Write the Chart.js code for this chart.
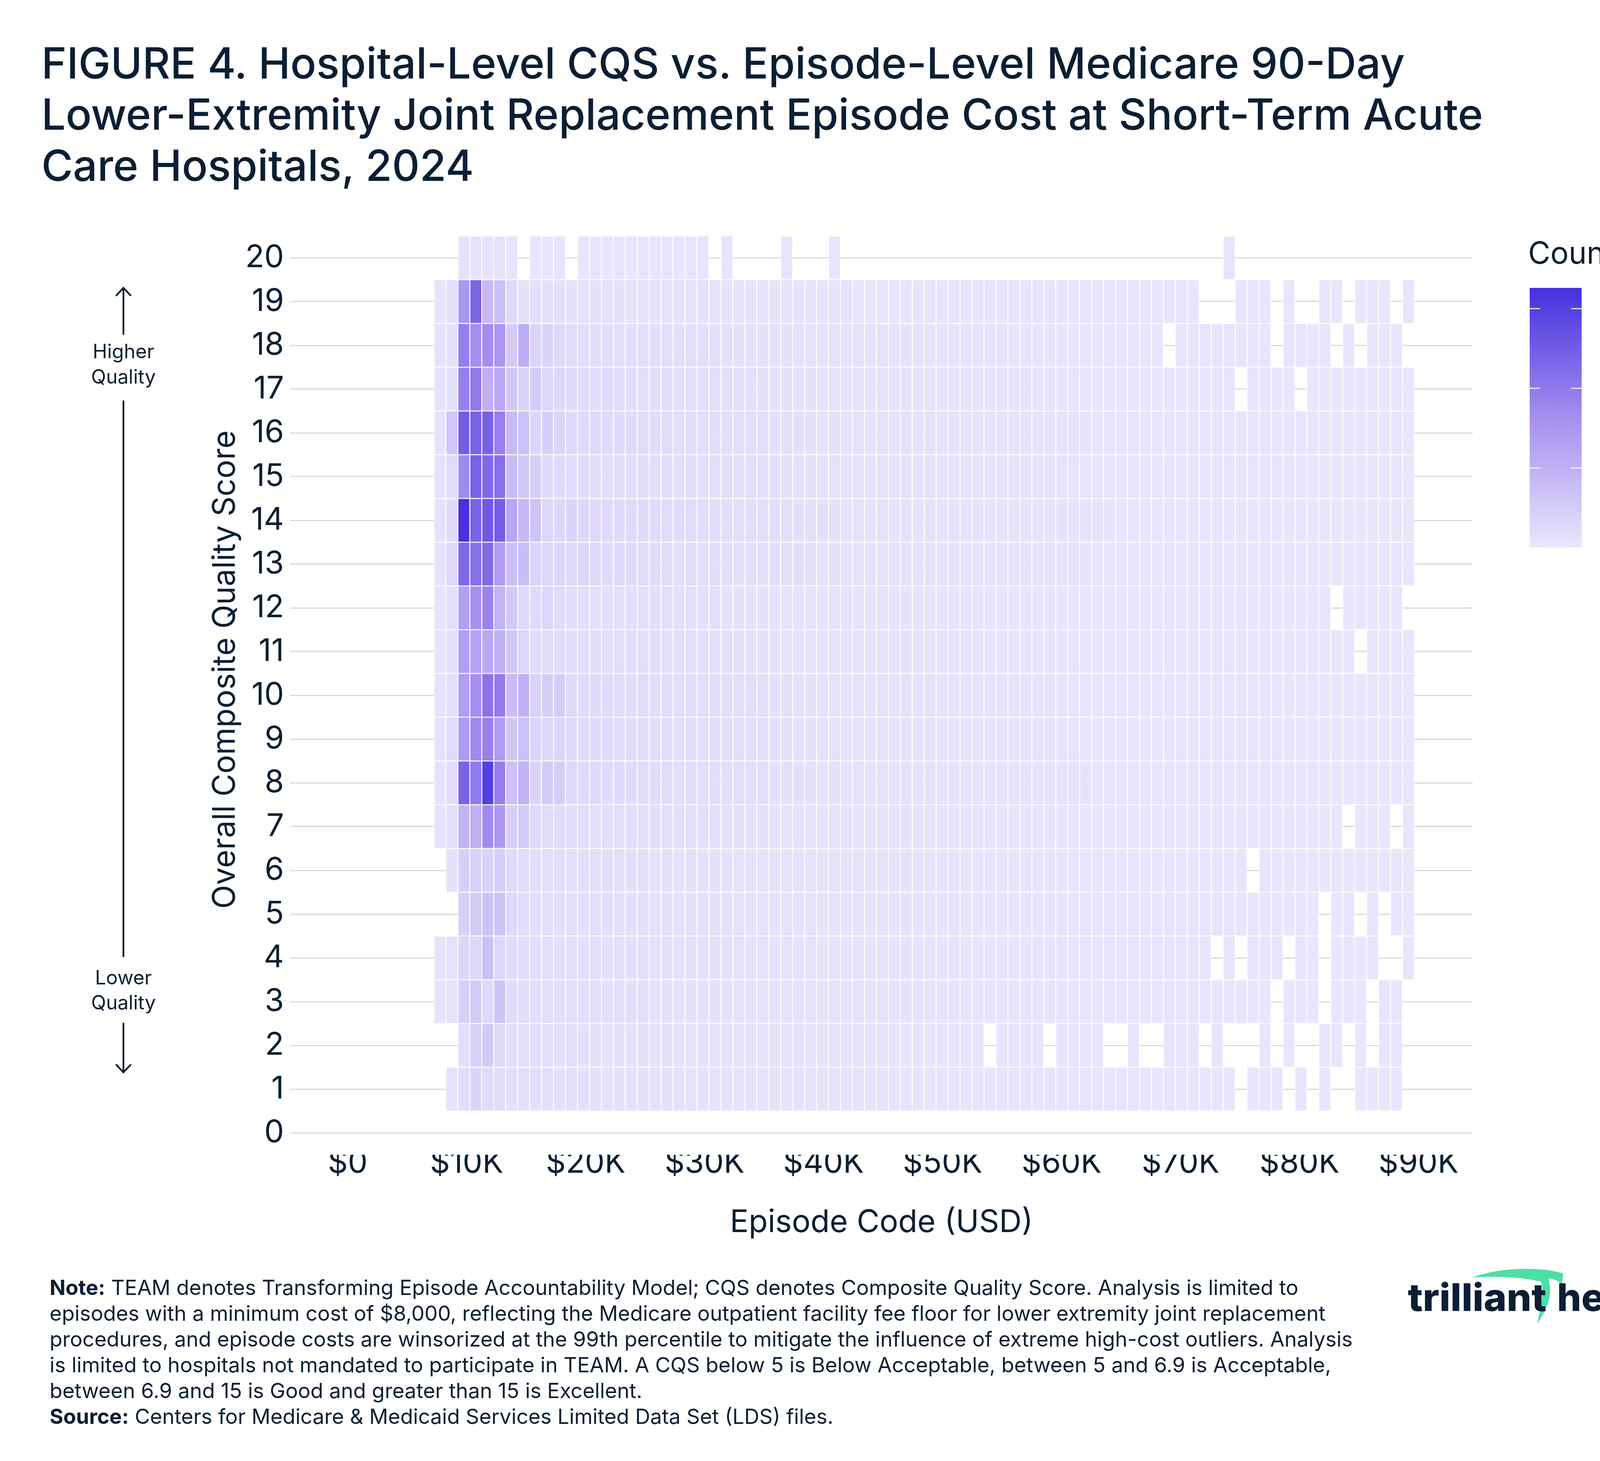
<!DOCTYPE html>
<html>
<head>
<meta charset="utf-8">
<script src="https://cdn.jsdelivr.net/npm/chart.js@4.4.1/dist/chart.umd.min.js"></script>
<style>
  html, body { margin: 0; padding: 0; background: #fff; }
  body { width: 4468px; height: 3740px; position: relative; overflow: hidden; font-family: 'Inter', sans-serif; color: #0b1e33; }
  #title { position: absolute; left: 106px; top: 96px; font-size: 110px; font-weight: 500; line-height: 131px; white-space: nowrap; }
  #plotWrap { position: absolute; left: 400px; top: 540px; width: 3420px; height: 2680px; }
  #ytitle { position: absolute; left: 571px; top: 1714px; transform: translate(-50%, -50%) rotate(-90deg); font-size: 80px; white-space: nowrap; }
  #countTitle { position: absolute; left: 3912px; top: 600px; font-size: 78px; line-height: 94px; }
  #cbWrap { position: absolute; left: 3900px; top: 700px; width: 520px; height: 740px; }
  #note { position: absolute; left: 127px; top: 3263px; font-size: 53.5px; line-height: 66px; white-space: nowrap; }
  #note b { font-weight: 700; }
  svg { position: absolute; }
</style>
</head>
<body>
<div id="title">FIGURE 4. Hospital-Level CQS vs. Episode-Level Medicare 90-Day<br>Lower-Extremity Joint Replacement Episode Cost at Short-Term Acute<br>Care Hospitals, 2024</div>

<div id="plotWrap"><canvas id="heatmap"></canvas></div>
<div id="ytitle">Overall Composite Quality Score</div>

<svg style="left:0;top:0" width="700" height="2900">
  <g stroke="#0b1e33" stroke-width="4.5" fill="none" stroke-linecap="round">
    <line x1="316" y1="737" x2="316" y2="855"/>
    <polyline points="298,756 316,737 334,756"/>
    <line x1="316" y1="1027" x2="316" y2="2448"/>
    <line x1="316" y1="2620" x2="316" y2="2745"/>
    <polyline points="298,2726 316,2745 334,2726"/>
  </g>
  <g fill="#0b1e33" font-family="Inter, sans-serif" font-size="50" text-anchor="middle">
    <text x="316" y="917">Higher</text>
    <text x="316" y="982">Quality</text>
    <text x="316" y="2520">Lower</text>
    <text x="316" y="2584">Quality</text>
  </g>
</svg>

<div id="countTitle">Count</div>
<div id="cbWrap"><canvas id="colorbar"></canvas></div>

<div id="note"><b>Note:</b> TEAM denotes Transforming Episode Accountability Model; CQS denotes Composite Quality Score. Analysis is limited to<br>episodes with a minimum cost of $8,000, reflecting the Medicare outpatient facility fee floor for lower extremity joint replacement<br>procedures, and episode costs are winsorized at the 99th percentile to mitigate the influence of extreme high-cost outliers. Analysis<br>is limited to hospitals not mandated to participate in TEAM. A CQS below 5 is Below Acceptable, between 5 and 6.9 is Acceptable,<br>between 6.9 and 15 is Good and greater than 15 is Excellent.<br><b>Source:</b> Centers for Medicare &amp; Medicaid Services Limited Data Set (LDS) files.</div>

<svg style="left:3590px;top:3230px" width="760" height="180">
  <path d="M180,40 C240,16 350,10 412,30 L408,58 C396,46 384,42 374,44 C384,82 376,112 346,158 C352,120 362,86 356,52 C320,40 240,36 180,40 Z" fill="#4ddfa5"/>
  <g fill="#0b1e33" font-family="Inter, sans-serif" font-weight="800" font-size="98">
    <text x="14" y="126" textLength="355" lengthAdjust="spacingAndGlyphs">trilliant</text>
    <text x="396" y="126" textLength="309" lengthAdjust="spacingAndGlyphs">health</text>
  </g>
  <circle cx="709" cy="58" r="9" fill="none" stroke="#0b1e33" stroke-width="2"/>
  <text x="709" y="63" font-family="Inter, sans-serif" font-size="13" font-weight="700" fill="#0b1e33" text-anchor="middle">R</text>
</svg>

<script>
Chart.defaults.font.family = "'Inter', sans-serif";
Chart.defaults.color = '#0b1e33';

// cost bins ($1K-ish wide, starting just above $7K) and score levels
const costBinStart = 7250;
const costBinWidth = 1005;
const scoreLevels = [1, 2, 3, 4, 5, 6, 7, 8, 9, 10, 11, 12, 13, 14, 15, 16, 17, 18, 19, 20];
const scoreTicks = [0, 1, 2, 3, 4, 5, 6, 7, 8, 9, 10, 11, 12, 13, 14, 15, 16, 17, 18, 19, 20];
const costTicks = [0, 10000, 20000, 30000, 40000, 50000, 60000, 70000, 80000, 90000];
const countTicks = [0, 2000, 4000, 6000];
const countMin = 0, countMax = 6520;

// episode counts per cost bin (82 bins), one array per CQS row, null = empty bin
const row1 = [
  null,200,370,700,440,400,330,290,280,270,
  260,250,245,240,235,230,225,220,215,210,
  205,200,195,190,185,180,175,170,165,160,
  155,150,145,140,140,135,130,130,125,120,
  120,115,110,110,105,105,100,100,95,95,
  90,90,85,85,80,80,80,75,75,70,
  70,65,65,60,60,55,55,null,55,50,
  50,null,50,null,45,null,null,45,40,40,
  40,null];
const row2 = [
  null,null,370,850,1070,480,330,300,290,280,
  270,260,250,240,235,230,225,220,215,210,
  205,200,195,190,185,180,175,170,165,160,
  155,150,145,140,140,135,130,130,125,120,
  120,115,110,110,105,105,null,100,100,95,
  95,null,90,90,85,85,null,null,80,null,
  null,75,70,70,null,65,null,null,null,60,
  null,55,null,null,50,50,null,45,null,45,
  40,null];
const row3 = [
  150,200,890,1070,480,1330,400,360,330,320,
  310,300,290,280,270,260,250,245,240,235,
  230,225,220,210,205,200,195,190,185,180,
  175,170,165,160,155,150,150,145,140,140,
  135,130,125,125,120,120,115,115,110,110,
  105,105,100,100,95,95,90,90,85,85,
  80,80,75,75,70,70,65,65,60,60,
  null,55,55,55,null,50,50,45,null,45,
  40,null];
const row4 = [
  150,200,630,630,1480,630,440,360,330,320,
  310,300,290,280,270,260,250,245,240,235,
  230,225,220,210,205,200,195,190,185,180,
  175,170,165,160,155,150,150,145,140,140,
  135,130,125,125,120,120,115,115,110,110,
  105,105,100,100,95,95,90,90,85,85,
  80,80,75,75,70,null,65,null,60,60,
  55,null,55,50,null,50,45,45,45,null,
  null,40];
const row5 = [
  null,null,850,1070,1330,1330,520,400,340,330,
  320,310,300,290,280,270,260,250,240,235,
  230,225,220,210,205,200,195,190,185,180,
  175,170,165,160,155,150,150,145,140,140,
  135,130,125,125,120,120,115,115,110,110,
  105,105,100,100,95,95,90,90,85,85,
  80,80,75,75,70,70,65,65,60,60,
  55,55,55,50,null,50,45,null,45,null,
  40,40];
const row6 = [
  null,220,900,850,780,890,440,380,340,330,
  320,310,300,290,280,270,260,250,240,235,
  230,225,220,210,205,200,195,190,185,180,
  175,170,165,160,155,150,150,145,140,140,
  135,130,125,125,120,120,115,115,110,110,
  105,105,100,100,95,95,90,90,85,85,
  80,80,75,75,70,70,65,65,null,60,
  60,55,55,55,50,50,50,45,45,45,
  40,40];
const row7 = [
  180,260,1890,2110,3390,2930,890,1040,520,420,
  400,380,360,350,340,330,320,310,300,290,
  280,270,260,250,240,230,220,210,200,195,
  190,185,180,175,170,165,160,155,150,150,
  145,140,135,130,130,125,120,120,115,115,
  110,110,105,105,100,100,95,95,90,90,
  85,85,80,80,75,75,70,70,65,65,
  60,60,55,55,50,50,null,45,45,40,
  null,40];
const row8 = [
  180,370,4760,3980,6040,3850,1440,1960,700,1070,
  960,520,480,470,460,450,430,420,400,390,
  380,370,360,340,320,300,290,280,270,260,
  250,240,230,220,210,210,200,200,190,190,
  180,180,170,170,160,160,150,150,145,140,
  140,135,130,130,125,120,120,115,110,110,
  105,100,100,95,95,90,90,85,85,80,
  80,75,75,70,70,65,65,60,60,55,
  55,50];
const row9 = [
  180,440,2850,3430,3780,2780,1200,1440,700,630,
  630,480,450,440,430,420,400,390,380,370,
  360,350,340,320,300,290,280,270,260,250,
  240,230,220,210,200,200,190,190,180,180,
  170,170,160,160,150,150,145,140,140,135,
  130,130,125,120,120,115,110,110,105,100,
  100,95,95,90,90,85,85,80,80,75,
  75,70,70,65,65,60,60,55,55,50,
  50,50];
const row10 = [
  180,260,2700,3260,4170,3900,1560,2040,780,960,
  960,480,450,440,430,420,400,390,380,370,
  360,350,340,320,300,290,280,270,260,250,
  240,230,220,210,200,200,190,190,180,180,
  170,170,160,160,150,150,145,140,140,135,
  130,130,125,120,120,115,110,110,105,100,
  100,95,95,90,90,85,85,80,80,75,
  75,70,70,65,65,60,60,55,55,50,
  50,50];
const row11 = [
  150,260,2700,2560,2330,2040,1150,630,440,420,
  400,380,370,360,350,340,330,320,310,300,
  290,280,270,260,250,240,230,220,210,200,
  195,190,185,180,175,170,165,160,155,150,
  150,145,140,135,130,130,125,120,120,115,
  115,110,110,105,105,100,100,95,95,90,
  90,85,85,80,80,75,75,70,70,65,
  65,60,60,55,55,50,50,null,45,45,
  40,40];
const row12 = [
  150,260,2670,3150,3680,1890,1150,520,500,630,
  420,380,360,350,340,330,320,310,300,290,
  280,270,260,250,240,230,220,210,200,195,
  190,185,180,175,170,165,160,155,150,150,
  145,140,135,130,130,125,120,120,115,115,
  110,110,105,105,100,100,95,95,90,90,
  85,85,80,80,75,75,70,70,65,65,
  60,60,55,55,50,null,50,45,45,40,
  40,null];
const row13 = [
  180,550,4600,4330,4530,2780,1440,1560,700,630,
  630,480,630,470,460,450,430,420,400,390,
  380,370,360,340,320,310,300,290,280,270,
  260,250,240,230,220,220,210,200,200,190,
  190,180,170,170,160,160,150,150,150,140,
  140,140,130,130,130,120,120,120,110,110,
  110,105,100,100,95,95,90,90,85,85,
  80,80,75,75,70,70,65,65,60,60,
  55,55];
const row14 = [
  180,480,6450,4760,5150,4980,2400,1700,1300,630,
  600,670,520,500,490,480,460,440,420,410,
  400,390,380,360,340,320,310,300,290,280,
  270,260,250,240,230,220,220,210,200,200,
  190,190,180,180,170,170,160,160,150,150,
  150,140,140,140,130,130,130,120,120,115,
  110,110,105,100,100,95,95,90,90,85,
  85,80,80,75,75,70,70,65,65,60,
  60,55];
const row15 = [
  180,440,3390,4760,4560,4330,1590,1150,890,440,
  440,400,400,390,380,380,370,360,350,340,
  330,320,310,300,290,280,270,260,250,240,
  230,220,210,210,200,200,190,190,180,180,
  170,170,160,160,150,150,150,140,140,140,
  130,130,130,120,120,120,110,110,110,105,
  100,100,95,95,90,90,85,85,80,80,
  75,75,70,70,65,65,60,60,55,55,
  55,50];
const row16 = [
  180,1220,4980,4760,4850,3780,1700,1440,630,890,
  700,520,500,480,470,460,440,420,400,390,
  380,370,360,340,320,300,290,280,270,260,
  250,240,230,220,220,210,200,200,190,190,
  180,180,170,170,160,160,150,150,150,140,
  140,140,130,130,130,120,120,120,110,110,
  110,105,100,100,95,95,90,90,85,85,
  80,80,75,75,70,70,65,65,60,60,
  55,55];
const row17 = [
  180,220,3780,3980,2100,2300,1150,740,1000,630,
  520,440,420,400,390,380,360,350,340,330,
  320,310,300,280,270,260,250,240,230,220,
  210,210,200,200,190,190,180,180,170,170,
  160,160,150,150,140,140,140,130,130,130,
  120,120,120,110,110,110,100,100,100,95,
  95,90,90,85,85,80,80,null,75,75,
  70,70,null,65,65,60,60,55,55,50,
  50,50];
const row18 = [
  180,220,3830,3260,3360,3000,1090,2150,670,670,
  520,410,380,370,360,350,340,330,320,310,
  300,290,280,260,250,240,240,230,220,210,
  200,200,190,190,180,180,170,170,160,160,
  150,150,150,140,140,130,130,130,120,120,
  120,110,110,110,100,100,100,100,95,95,
  90,null,85,85,80,80,75,75,70,70,
  null,65,65,60,60,null,55,null,50,50,
  45,null];
const row19 = [
  110,260,2960,4660,1700,1480,520,220,260,260,
  260,230,220,220,210,210,200,200,190,190,
  180,180,170,170,160,160,150,150,150,140,
  140,140,130,130,130,120,120,120,120,110,
  110,110,110,110,100,100,100,100,95,95,
  90,90,90,90,85,85,85,80,80,80,
  75,75,75,70,null,null,null,60,60,55,
  null,50,null,null,50,45,null,45,40,40,
  null,40];
const row20 = [
  null,null,170,160,140,150,90,null,100,90,
  100,null,110,110,100,110,100,100,110,100,
  100,100,100,null,90,null,null,null,null,90,
  null,null,null,90,null,null,null,null,null,null,
  null,null,null,null,null,null,null,null,null,null,
  null,null,null,null,null,null,null,null,null,null,
  null,null,null,null,null,null,80,null,null,null,
  null,null,null,null,null,null,null,null,null,null,
  null,null];

const colorStops = [[0, [233, 231, 252]], [0.5, [166, 143, 240]], [1, [69, 48, 222]]];

function countColor(v) {
  const t = Math.max(0, Math.min(1, (v - countMin) / (countMax - countMin)));
  for (let i = 1; i < colorStops.length; i++) {
    const [t0, c0] = colorStops[i - 1];
    const [t1, c1] = colorStops[i];
    if (t <= t1) {
      const f = (t - t0) / (t1 - t0);
      const c = c0.map((a, k) => Math.round(a + (c1[k] - a) * f));
      return `rgb(${c[0]},${c[1]},${c[2]})`;
    }
  }
  return 'rgb(69,48,222)';
}

function formatCost(v) {
  return v === 0 ? '$0' : `$${v / 1000}K`;
}

function buildCells() {
  const rows = [row1, row2, row3, row4, row5, row6, row7, row8, row9, row10,
                row11, row12, row13, row14, row15, row16, row17, row18, row19, row20];
  const cells = [];
  scoreLevels.forEach((score, i) => {
    rows[i].forEach((count, c) => {
      if (count === null) return;
      cells.push({
        y: score,
        x: [costBinStart + c * costBinWidth, costBinStart + (c + 1) * costBinWidth],
        count: count
      });
    });
  });
  return cells;
}

const tickFont = { size: 80 };

new Chart(document.getElementById('heatmap'), {
  type: 'bar',
  data: {
    datasets: [{
      data: buildCells(),
      backgroundColor: (ctx) => ctx.raw ? countColor(ctx.raw.count) : '#fff',
      borderColor: '#ffffff',
      borderWidth: 1.6,
      borderSkipped: false,
      barPercentage: 1,
      categoryPercentage: 1
    }]
  },
  options: {
    indexAxis: 'y',
    responsive: true, maintainAspectRatio: false,
    devicePixelRatio: 1,
    animation: false,
    layout: { padding: { top: 56, right: 50, left: 0, bottom: 0 } },
    plugins: { legend: { display: false }, tooltip: { enabled: false } },
    scales: {
      x: {
        type: 'linear', min: -4830, max: 94550,
        grid: { display: false },
        border: { display: false },
        afterBuildTicks: (scale) => { scale.ticks = costTicks.map(v => ({ value: v })); },
        afterFit: (scale) => { scale.height = 264; },
        ticks: { font: tickFont, padding: -34, autoSkip: false, maxRotation: 0, callback: (v) => formatCost(v) },
        title: { display: true, text: 'Episode Code (USD)', font: { size: 80, lineHeight: 1.2 }, padding: { top: 0, bottom: 42 } }
      },
      y: {
        type: 'linear', min: -0.5, max: 20.5,
        offset: false,
        grid: { color: '#d9d9d9', lineWidth: 3, drawTicks: false, offset: false },
        border: { display: false },
        afterBuildTicks: (scale) => { scale.ticks = scoreTicks.map(v => ({ value: v })); },
        afterFit: (scale) => { scale.width = 343; },
        ticks: { font: tickFont, padding: 16, autoSkip: false }
      }
    }
  }
});

// colour bar legend: one floating bar spanning the count range, filled with the scale
const colorbarTicks = {
  id: 'colorbarTicks',
  afterDatasetsDraw(chart) {
    const { ctx, chartArea, scales } = chart;
    ctx.save();
    ctx.strokeStyle = '#ffffff';
    ctx.lineWidth = 2.5;
    scales.y.ticks.forEach(t => {
      const py = scales.y.getPixelForValue(t.value);
      ctx.beginPath();
      ctx.moveTo(chartArea.left, py); ctx.lineTo(chartArea.left + 27, py);
      ctx.moveTo(chartArea.right - 27, py); ctx.lineTo(chartArea.right, py);
      ctx.stroke();
    });
    ctx.restore();
  }
};

new Chart(document.getElementById('colorbar'), {
  type: 'bar',
  data: {
    labels: ['Count'],
    datasets: [{
      data: [[countMin, countMax]],
      backgroundColor: (ctx) => {
        const { chart } = ctx;
        if (!chart.chartArea) return '#e9e7fc';
        const y = chart.scales.y;
        const g = chart.ctx.createLinearGradient(0, y.getPixelForValue(countMin), 0, y.getPixelForValue(countMax));
        colorStops.forEach(([t, c]) => g.addColorStop(t, `rgb(${c[0]},${c[1]},${c[2]})`));
        return g;
      },
      borderWidth: 0,
      barPercentage: 1,
      categoryPercentage: 1
    }]
  },
  options: {
    responsive: true, maintainAspectRatio: false,
    devicePixelRatio: 1,
    animation: false,
    layout: { padding: { left: 16, top: 37, bottom: 38, right: 0 } },
    plugins: { legend: { display: false }, tooltip: { enabled: false } },
    scales: {
      x: { display: false },
      y: {
        type: 'linear', position: 'right', min: countMin, max: countMax,
        grid: { display: false },
        border: { display: false },
        afterBuildTicks: (scale) => { scale.ticks = countTicks.map(v => ({ value: v })); },
        afterFit: (scale) => { scale.width = 371; scale.paddingTop = 0; scale.paddingBottom = 0; },
        ticks: { font: tickFont, padding: 37, labelOffset: -26, callback: (v) => v.toLocaleString('en-US') }
      }
    }
  },
  plugins: [colorbarTicks]
});
</script>
</body>
</html>
